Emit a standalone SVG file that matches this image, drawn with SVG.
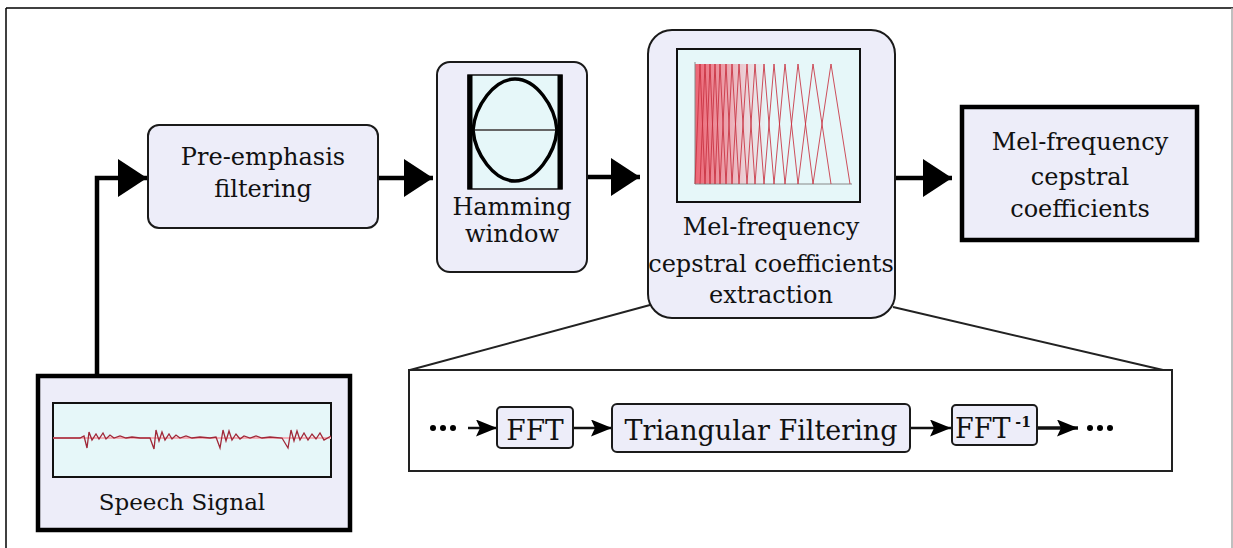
<svg xmlns="http://www.w3.org/2000/svg" width="1233" height="548" viewBox="0 0 1233 548">
<style>
text{font-family:"DejaVu Serif","Liberation Serif",serif;fill:#111;text-anchor:middle}
.t24{font-size:24px}
.t23{font-size:23px}
.box{fill:#ededf9;stroke:#1a1a1a;stroke-width:2}
.thick{fill:#ededf9;stroke:#000;stroke-width:4.5}
.img{fill:#e6f7f9;stroke:#111;stroke-width:2}
.big{fill:none;stroke:#000;stroke-width:4.5}
.small{fill:none;stroke:#111;stroke-width:2.5}
.zoom{fill:none;stroke:#222;stroke-width:2}
.tri{fill:none;stroke:#c8303f;stroke-width:1;stroke-opacity:0.85}
.dot{fill:#000}
</style>
<defs>
<marker id="ab" markerUnits="userSpaceOnUse" markerWidth="30" markerHeight="40" refX="29" refY="19" orient="auto">
<path d="M0,0 L29,19 L0,38 Z" fill="#000"/>
</marker>
<marker id="as" markerUnits="userSpaceOnUse" markerWidth="22" markerHeight="18" refX="21" refY="8.5" orient="auto">
<path d="M0,0 L21,8.5 L0,17 L4,8.5 Z" fill="#000"/>
</marker>
<linearGradient id="redfill" x1="0" x2="1" y1="0" y2="0">
<stop offset="0" stop-color="#ee4a5c" stop-opacity="0.85"/>
<stop offset="0.45" stop-color="#f06a7a" stop-opacity="0.6"/>
<stop offset="1" stop-color="#f8b0b8" stop-opacity="0.1"/>
</linearGradient>
</defs>
<rect width="1233" height="548" fill="#fff"/>
<g id="frame">
<line x1="6" y1="8" x2="1233" y2="8" stroke="#000" stroke-width="1.5"/>
<line x1="6" y1="8" x2="6" y2="548" stroke="#000" stroke-width="1.5"/>
<line x1="1232" y1="8" x2="1232" y2="548" stroke="#aaa" stroke-width="1.5"/>
</g>
<g id="connectors">
<path class="big" d="M97,377 V178 H147" marker-end="url(#ab)"/>
<path class="big" d="M378,178 H433" marker-end="url(#ab)"/>
<path class="big" d="M587,177 H640" marker-end="url(#ab)"/>
<path class="big" d="M895,178 H952" marker-end="url(#ab)"/>
<path class="zoom" d="M650,305 L410,370"/>
<path class="zoom" d="M893,307 L1163,370"/>
<path class="small" d="M468,428 H497" marker-end="url(#as)"/>
<path class="small" d="M573,428 H612" marker-end="url(#as)"/>
<path class="small" d="M910,428 H951" marker-end="url(#as)"/>
<path class="small" style="stroke-width:3.5" d="M1037,428 H1078" marker-end="url(#as)"/>
</g>
<g id="preemphasis">
<rect class="box" x="148" y="125" width="230" height="103" rx="11"/>
<text class="t24" x="263" y="165">Pre-emphasis</text>
<text class="t24" x="263" y="197">filtering</text>
</g>
<g id="hamming">
<rect class="box" x="437" y="62" width="150" height="210" rx="13"/>
<rect x="468" y="75" width="94" height="114" fill="#e6f7f9" stroke="#111" stroke-width="1.5"/>
<line x1="470" y1="75" x2="470" y2="189" stroke="#000" stroke-width="5"/>
<line x1="560" y1="75" x2="560" y2="189" stroke="#000" stroke-width="5"/>
<line x1="472" y1="130" x2="558" y2="130" stroke="#666" stroke-width="2"/>
<path d="M473,130 C475,106 494,79 515,79 C536,79 555,106 557,130 C555,154 536,181 515,181 C494,181 475,154 473,130 Z" fill="none" stroke="#000" stroke-width="3.5"/>
<text class="t24" x="512" y="215">Hamming</text>
<text class="t24" x="512" y="242">window</text>
</g>
<g id="mfcc-extraction">
<rect class="box" x="648" y="30" width="247" height="288" rx="24"/>
<rect class="img" x="677" y="49" width="183" height="153"/>
<rect x="695" y="64" width="70" height="120" fill="url(#redfill)"/>
<line x1="695" y1="62" x2="695" y2="184" stroke="#888" stroke-width="1"/>
<line x1="695" y1="184" x2="852" y2="184" stroke="#888" stroke-width="1"/>
<path class="tri" d="M695,184 L700,64 L705,184 M700,184 L705,64 L710,184 M705,184 L710,64 L715,184 M710,184 L715,64 L720,184 M715,184 L720,64 L726,184 M720,184 L726,64 L732,184 M726,184 L732,64 L739,184 M732,184 L739,64 L747,184 M739,184 L747,64 L755,184 M747,184 L755,64 L764,184 M755,184 L764,64 L774,184 M764,184 L774,64 L785,184 M774,184 L785,64 L798,184 M785,184 L798,64 L813,184 M798,184 L813,64 L831,184 M813,184 L831,64 L850,184"/>
<text class="t24" x="771" y="235">Mel-frequency</text>
<text class="t24" x="771" y="272">cepstral coefficients</text>
<text class="t24" x="771" y="303">extraction</text>
</g>
<g id="mfcc-output">
<rect class="thick" x="962" y="107" width="235" height="133"/>
<text class="t24" x="1080" y="150">Mel-frequency</text>
<text class="t24" x="1080" y="185">cepstral</text>
<text class="t24" x="1080" y="217">coefficients</text>
</g>
<g id="speech-signal">
<rect class="thick" x="38" y="376" width="312" height="154"/>
<rect class="img" x="53" y="403" width="278" height="74"/>
<line x1="53" y1="438" x2="331" y2="438" stroke="#f4b0b8" stroke-width="2"/>
<path d="M53,438 L80,438 L84,436 L87,448 L89,432 L92,440 L96,434 L99,439 L103,433 L106,439 L110,435 L114,438 L120,436 L126,438 L132,437 L140,438 L150,438 L154,449 L156,430 L159,441 L162,432 L165,440 L169,434 L172,439 L176,435 L180,438 L186,436 L192,438 L200,437 L210,438 L216,437 L220,448 L223,430 L226,441 L229,431 L232,440 L236,434 L240,439 L244,436 L250,438 L256,436 L262,438 L270,437 L282,438 L288,448 L291,430 L294,441 L297,431 L300,440 L304,433 L308,440 L312,434 L316,439 L320,433 L324,440 L331,436" fill="none" stroke="#a02838" stroke-width="1.3"/>
<text class="t23" x="182" y="510">Speech Signal</text>
</g>
<g id="mfcc-detail">
<rect class="zoom" x="409" y="370" width="763" height="101"/>
</g>
<g id="dots-in">
<circle class="dot" cx="433" cy="428" r="3"/>
<circle class="dot" cx="443" cy="428" r="3"/>
<circle class="dot" cx="453" cy="428" r="3"/>
</g>
<g id="fft">
<rect class="box" x="497" y="407" width="76" height="41" rx="4"/>
<text x="535" y="440" style="font-size:28px">FFT</text>
</g>
<g id="triangular-filtering">
<rect class="box" x="612" y="404" width="298" height="48" rx="5"/>
<text x="761" y="440" style="font-size:27px">Triangular Filtering</text>
</g>
<g id="ifft">
<rect class="box" x="952" y="405" width="85" height="40" rx="4"/>
<text x="955" y="438" style="font-size:27px;text-anchor:start">FFT<tspan dy="-11" style="font-size:14px;font-weight:bold"> -1</tspan></text>
</g>
<g id="dots-out">
<circle class="dot" cx="1090" cy="428" r="3"/>
<circle class="dot" cx="1100" cy="428" r="3"/>
<circle class="dot" cx="1110" cy="428" r="3"/>
</g>
</svg>
